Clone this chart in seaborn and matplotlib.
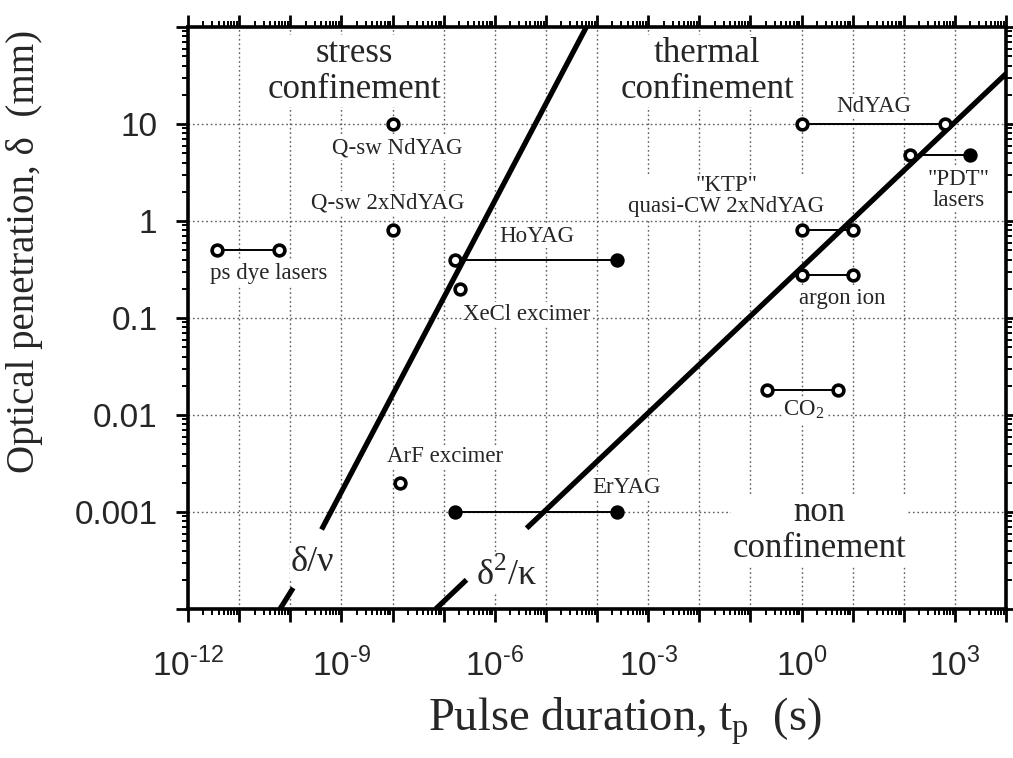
import numpy as np
import pandas as pd
import matplotlib
matplotlib.use("Agg")
import matplotlib.pyplot as plt
import seaborn as sns
from matplotlib.ticker import LogLocator, FuncFormatter, NullFormatter

# ---------------- data ----------------
# lasers shown as a range of pulse durations (s) at one optical penetration (mm)
range_names = ["ps dye lasers", "HoYAG", "ErYAG", "NdYAG", "PDT lasers",
               "KTP quasi-CW 2xNdYAG", "argon ion", "CO2"]
range_t_min = [3.7e-12, 1.7e-7, 1.65e-7, 1.0, 130.0, 1.0, 1.0, 0.21]
range_t_max = [6.0e-11, 2.5e-4, 2.5e-4, 650.0, 2000.0, 10.0, 10.0, 5.2]
range_depth = [0.5, 0.4, 0.001, 10.0, 4.8, 0.8, 0.28, 0.018]
range_min_filled = [False, False, True, False, False, False, False, False]
range_max_filled = [False, True, True, False, True, False, False, False]

# lasers shown as a single point
point_names = ["Q-sw NdYAG", "Q-sw 2xNdYAG", "XeCl excimer", "ArF excimer"]
point_t = [1.0e-8, 1.0e-8, 2.05e-7, 1.4e-8]
point_depth = [10.0, 0.8, 0.2, 0.002]

# confinement boundaries (segment end points, broken where labelled)
stress_seg = ["low", "low", "high", "high"]
stress_t = [6.3e-11, 1.14e-10, 4.1e-10, 6.2e-5]
stress_d = [1.0e-4, 1.65e-4, 6.6e-4, 100.0]
thermal_seg = ["low", "low", "high", "high"]
thermal_t = [7.0e-8, 2.8e-7, 4.2e-6, 1.0e4]
thermal_d = [1.0e-4, 2.0e-4, 6.8e-4, 33.0]

x_tick_labels = {-12: "-12", -9: "-9", -6: "-6", -3: "-3", 0: "0", 3: "3"}
y_tick_labels = {1: "10", 0: "1", -1: "0.1", -2: "0.01", -3: "0.001"}

# ---------------- style ----------------
sns.set_theme(style="ticks")
plt.rcParams["font.family"] = ["Liberation Serif", "DejaVu Serif"]
plt.rcParams["mathtext.fontset"] = "custom"
plt.rcParams["mathtext.rm"] = "Liberation Sans"

fig = plt.figure(figsize=(10.13, 7.58), dpi=100)
ax = fig.add_axes([188 / 1013, 1 - 609 / 758, (1006 - 188) / 1013, (609 - 27) / 758])
ax.set_xscale("log")
ax.set_yscale("log")
ax.set_xlim(1e-12, 1e4)
ax.set_ylim(1e-4, 1e2)

# grid
ax.grid(True, which="major", linestyle=(0, (1.2, 2.0)), color="#5e5e5e", linewidth=1.0, zorder=0)

# confinement boundary lines
stress_df = pd.DataFrame({"t": stress_t, "d": stress_d, "seg": stress_seg})
thermal_df = pd.DataFrame({"t": thermal_t, "d": thermal_d, "seg": thermal_seg})
for df in (stress_df, thermal_df):
    sns.lineplot(data=df, x="t", y="d", units="seg", estimator=None, sort=False,
                 color="black", linewidth=3.8, solid_capstyle="butt", ax=ax,
                 legend=False, zorder=4)

# laser range lines
rows = []
for n, a, b, d in zip(range_names, range_t_min, range_t_max, range_depth):
    rows.append({"laser": n, "t": a, "d": d})
    rows.append({"laser": n, "t": b, "d": d})
range_df = pd.DataFrame(rows)
sns.lineplot(data=range_df, x="t", y="d", units="laser", estimator=None, sort=False,
             color="black", linewidth=1.4, ax=ax, legend=False, zorder=4)

# markers
ends_t = range_t_min + range_t_max + point_t
ends_d = range_depth + range_depth + point_depth
ends_f = range_min_filled + range_max_filled + [False] * len(point_t)
mk = pd.DataFrame({"t": ends_t, "d": ends_d, "filled": ends_f})
sns.scatterplot(data=mk[~mk.filled], x="t", y="d", color="white", edgecolor="black",
                linewidth=2.6, s=60, ax=ax, zorder=5, legend=False)
sns.scatterplot(data=mk[mk.filled], x="t", y="d", color="black", edgecolor="black",
                linewidth=2.6, s=60, ax=ax, zorder=5, legend=False)

# ticks
ax.xaxis.set_major_locator(LogLocator(base=10, numticks=40))
ax.xaxis.set_minor_locator(LogLocator(base=10, subs=np.arange(2, 10), numticks=400))
ax.yaxis.set_major_locator(LogLocator(base=10, numticks=40))
ax.yaxis.set_minor_locator(LogLocator(base=10, subs=np.arange(2, 10), numticks=400))


def xfmt(v, pos):
    e = int(round(np.log10(v)))
    if e not in x_tick_labels:
        return ""
    return r"$\mathregular{10}^{\text{" + x_tick_labels[e] + "}}$"


def yfmt(v, pos):
    e = int(round(np.log10(v)))
    return y_tick_labels.get(e, "")


ax.xaxis.set_major_formatter(FuncFormatter(xfmt))
ax.yaxis.set_major_formatter(FuncFormatter(yfmt))
ax.xaxis.set_minor_formatter(NullFormatter())
ax.yaxis.set_minor_formatter(NullFormatter())

ax.tick_params(which="both", direction="out", top=True, right=True, color="black")
ax.tick_params(which="major", length=9, width=2.0)
ax.tick_params(which="minor", length=4.5, width=1.4)
ax.tick_params(axis="x", which="major", labelsize=24, pad=19)
ax.tick_params(axis="y", which="major", labelsize=24, pad=13)
plt.setp(ax.get_xticklabels(), fontfamily=["Liberation Sans"])
plt.setp(ax.get_yticklabels(), fontfamily=["Liberation Sans"])
for s in ax.spines.values():
    s.set_linewidth(2.6)
    s.set_color("black")
    s.set_visible(True)

# axis labels
ax.set_xlabel(r"Pulse duration, t$_\mathregular{p}$  (s)", fontsize=33.5)
ax.set_ylabel("Optical penetration, δ  (mm)", fontsize=28)
ax.xaxis.set_label_coords(0.534, -0.148)
ax.yaxis.set_label_coords(-0.177, 0.615)

# text annotations
box = dict(facecolor="white", edgecolor="none", pad=1.0)
region_kw = dict(fontsize=25, ha="center", va="center", linespacing=1.12, zorder=3, bbox=box)
ax.text(1.83e-9, 35, "stress\nconfinement", **region_kw)
ax.text(0.0143, 35, "thermal\nconfinement", **region_kw)
ax.text(2.2, 6.4e-4, "non\nconfinement", **region_kw)

lab_kw = dict(fontsize=16.5, ha="center", va="center", linespacing=1.0, zorder=3, bbox=box)
ax.text(1.26e-8, 5.7, "Q-sw NdYAG", **lab_kw)
ax.text(8.0e-9, 1.54, "Q-sw 2xNdYAG", **lab_kw)
ax.text(3.8e-11, 0.29, "ps dye lasers", **lab_kw)
ax.text(6.5e-6, 0.70, "HoYAG", **lab_kw)
ax.text(4.2e-6, 0.109, "XeCl excimer", **lab_kw)
ax.text(1.05e-7, 3.7e-3, "ArF excimer", **lab_kw)
ax.text(3.75e-4, 1.8e-3, "ErYAG", **lab_kw)
ax.text(26, 15.2, "NdYAG", **lab_kw)
ax.text(1200, 2.1, '"PDT"\nlasers', **lab_kw)
ax.text(0.0336, 1.8, '"KTP"\nquasi-CW 2xNdYAG', **lab_kw)
ax.text(6.2, 0.16, "argon ion", **lab_kw)
ax.text(1.12, 0.0113, r"CO$_\mathregular{2}$", **lab_kw)

ax.text(2.76e-10, 3.0e-4, "δ/ν", fontsize=26, ha="center", va="center", zorder=3, bbox=box)
ax.text(1.7e-6, 2.25e-4, r"δ$^\mathregular{2}$/κ", fontsize=26, ha="center", va="center",
        zorder=3, bbox=box)

fig.savefig("out.png", dpi=100)
